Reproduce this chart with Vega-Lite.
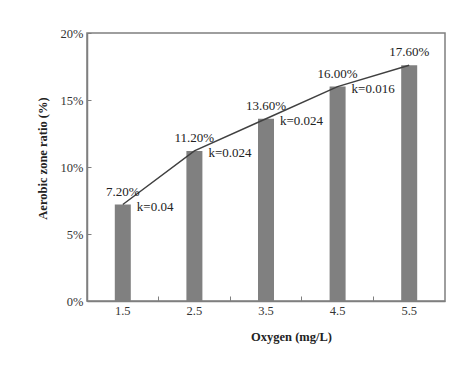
{
  "$schema": "https://vega.github.io/schema/vega-lite/v6.json",
  "width": 358,
  "height": 268,
  "autosize": {"type": "none"},
  "padding": {"left": 87, "top": 33, "right": 21, "bottom": 73},
  "background": "white",
  "config": {
    "font": "Liberation Serif",
    "view": {"stroke": "#7f7f7f", "strokeWidth": 1.5},
    "axis": {
      "labelFont": "Liberation Serif",
      "titleFont": "Liberation Serif",
      "labelFontSize": 12.5,
      "titleFontSize": 12.5,
      "titleFontWeight": "bold",
      "labelColor": "#333333",
      "titleColor": "#222222",
      "domainColor": "#7f7f7f",
      "domainWidth": 1.5,
      "tickColor": "#7f7f7f",
      "grid": false
    }
  },
  "data": {
    "values": [
      {"oxygen": "1.5", "ratio": 0.072, "k": "k=0.04"},
      {"oxygen": "2.5", "ratio": 0.112, "k": "k=0.024"},
      {"oxygen": "3.5", "ratio": 0.136, "k": "k=0.024"},
      {"oxygen": "4.5", "ratio": 0.160, "k": "k=0.016"},
      {"oxygen": "5.5", "ratio": 0.176, "k": ""}
    ]
  },
  "encoding": {
    "x": {
      "field": "oxygen",
      "type": "ordinal",
      "sort": null,
      "scale": {"paddingInner": 0, "paddingOuter": 0},
      "axis": {
        "title": "Oxygen (mg/L)",
        "labelAngle": 0,
        "bandPosition": 0,
        "tickSize": -5,
        "labelPadding": 8,
        "titlePadding": 14,
        "titleX": 204
      }
    },
    "y": {
      "field": "ratio",
      "type": "quantitative",
      "scale": {"domain": [0, 0.2]},
      "axis": {
        "title": "Aerobic zone ratio (%)",
        "format": ".0%",
        "values": [0, 0.05, 0.1, 0.15, 0.2],
        "tickSize": -4,
        "labelPadding": 8,
        "titleX": -38,
        "titleY": 125
      }
    }
  },
  "layer": [
    {"mark": {"type": "bar", "width": 16, "color": "#808080"}},
    {"mark": {"type": "line", "color": "#404040", "strokeWidth": 1.5}},
    {
      "mark": {"type": "text", "dy": -13, "fontSize": 13, "color": "#222222", "font": "Liberation Serif"},
      "encoding": {"text": {"field": "ratio", "type": "quantitative", "format": ".2%"}}
    },
    {
      "mark": {"type": "text", "align": "left", "baseline": "middle", "dx": 14, "dy": 2, "fontSize": 13, "color": "#222222", "font": "Liberation Serif"},
      "encoding": {"text": {"field": "k"}}
    }
  ]
}
